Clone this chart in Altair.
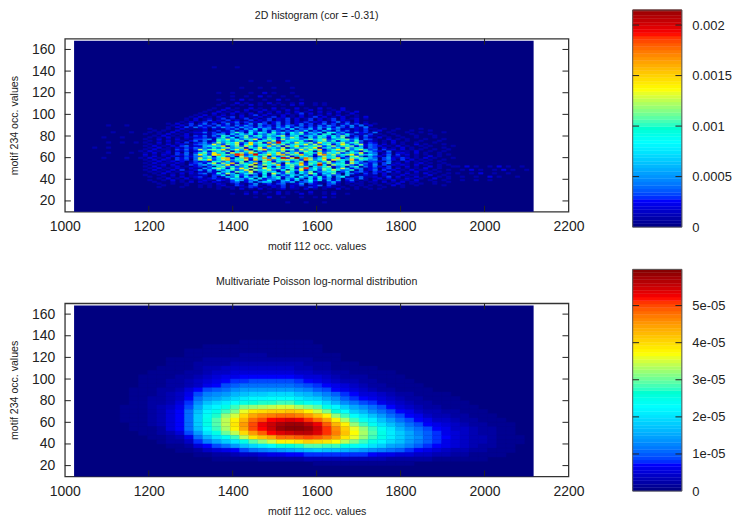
import altair as alt
import pandas as pd

# ---- axes ----
X_TICKS = [1000, 1200, 1400, 1600, 1800, 2000, 2200]
Y_TICKS = [20, 40, 60, 80, 100, 120, 140, 160]
X_FIELD = [1022, 2117]
Y_FIELD = [10, 168]
STOPS = [0, 0.12, 0.38, 0.62, 0.87, 1]
JET = ["#000080", "#0000ff", "#00ffff", "#ffff00", "#ff0000", "#800000"]
BANDS = 64

# ---- top panel: histogram, base-36 digits in units of 1e-4, (row, first column, cells) ----
HIST_COL_W = 10.95
HIST_ROW_H = 1.58
HIST_MAX = 0.0022
HIST_TICKS = [0.0005, 0.001, 0.0015, 0.002]
HIST_ROWS = [
    (5, 44, "0010001000100"),
    (8, 38, "0100200100010010201"),
    (10, 34, "10020101002010020100102001"),
    (11, 36, "010200102010100200101"),
    (13, 30, "0100102010201012011020101002010100101"),
    (14, 14, "0000100001000" "10101011" "0113201021302101320121" "01001010" "001000100"),
    (15, 14, "0000010000100" "10101200" "3203410221302130124031" "10010101" "010020100100000100"),
    (16, 14, "0000100100100" "01102101" "3102502313401250321034" "10101100" "100102001010010000"),
    (17, 14, "0001000101020" "21021013" "4025147602536034720136" "20120101" "102010201100010010"),
    (18, 14, "0010010201010" "121032" "13752460384157260493716250" "241010" "201020110200100100"),
    (19, 14, "0000102010201" "212320" "28653907245816394072835140" "331410" "120201021010020010"),
    (20, 14, "0010010102012" "310302" "74a28460936a25718493a26058" "102411" "201302010201001010"),
    (21, 14, "0100100201011" "1203" "38159362407182639507261483507" "10121" "102010201100200100"),
    (22, 14, "0001020102021" "3412" "93c6048b5291d73a6084c9275b306" "42031" "302011020102010010"),
    (23, 14, "0010102010120" "2142" "0672b95d14a6803c7295b1468a037" "13420" "320302010200101000"),
    (24, 14, "0102010203012" "526" "2748a36d0b78c4290a5e2683b7c945a1" "412" "403120102011010010"),
    (25, 14, "0010201021021" "153" "8c92b5e7c04d96b38a2c75a4b906d725" "412" "302302010102001000"),
    (26, 14, "0102010120102" "314" "07b4935a1c6082947b36a0859c24716a" "142" "420301020100201001"),
    (27, 14, "0010120201032" "46" "37a6e2b59d04c87f29b6e3a5d81c79b42a" "32" "503021210201001010"),
    (28, 14, "0102011021023" "52" "8d3c7f2b96e3a8c50d7ag3b9e4c68a2d73" "42" "403512010120100100"),
    (29, 14, "0010201202013" "23" "29a4836b1740c92a5836b17a49c2581b64" "13" "320401020101001000"),
    (30, 14, "0102021032304" "b9e37cg5a8d2f6bh49ce7a3gc58d2eb96f3a74" "503420302010100100"),
    (31, 14, "1020102032414" "d6a48ef29bh3c7g5e8a3db6hc49f7ae25c8b96" "403521320102010001"),
    (32, 14, "0102010201324" "47b2a9361c58a4b0739c26a8514b7a3629c415" "320412010100201000"),
    (33, 14, "0201021032415" "e83cg9b5fh36d9ae7cg4b8f6a2dh7c59be3a68" "502403120101001010"),
    (34, 14, "0102012030403" "9b4e7a2d8c5fa36b9e4c7d29a6f4b8c36a7d25" "401302210201001000"),
    (35, 14, "1020102021312" "3826a5b1749c0638a5b2647c91a3586b0942a6" "320401010200100100"),
    (36, 14, "0102011032413" "c5ab9e37d6g28cf4a7e9b3d6c8f25ae7b49c63" "403120201010010010"),
    (37, 14, "0010201021324" "35" "3948c57b2a6d3984c15a7b9e26a483c5a7" "14" "302010201001000100"),
    (38, 14, "0102010203412" "26" "87ae26b4d93a7f5b2c8e46a9d37c5a8b26" "24" "320102010010100001"),
    (39, 14, "0010102012013" "45" "4d63b7c29e5a84c6b37a9d5c48b26ea37c" "24" "302010100201000100"),
    (40, 14, "0100201020302" "3524" "c5a8d36e7b2g5c8a4d96b3e7a58c49b" "313" "201020100100010000"),
    (41, 14, "0010102011024" "1412" "a6947b1638a5c24976a3158b4a2763a" "412" "101020010010001000"),
    (42, 14, "0100201020103" "3451" "a7c5847ad26b93c58a47b69c35a8b47" "143" "100201010001000100"),
    (43, 14, "0010102010212" "23124" "a3816b5473a6295c84173a6295b1" "24131" "020100100100010000"),
    (44, 14, "0001020101203" "24142" "a7265b38a4759c36a2574a8394b6" "13142" "101001000100010000"),
    (45, 14, "0100102010201" "12135" "5173859264a73518693472a81539" "31203" "010010001000100000"),
    (46, 14, "0010100201012" "2413132" "4a5183962a47395b26471a8352" "1423140" "010001001000010000"),
    (47, 14, "0001010020101" "1201312" "51327415263142537142631524" "1213012" "001000100010000000"),
    (48, 14, "0010001002010" "1202113" "2415382641352714362518341" "2021311" "010010000100000000"),
    (49, 18, "00102031423142534253425342536253142534253142140"),
    (50, 20, "010203142314231425314231425314231425314251402"),
    (51, 20, "1020130241302413024153024130241302413024130201"),
    (52, 22, "010201302130241302130241302130213024130201"),
    (53, 22, "00102013021302013021302130201302013021020"),
    (54, 24, "1020120130201302013021302013020130201201"),
    (55, 24, "0102010201302010201302010201302010200102"),
    (56, 26, "102010201020130201020102010201020101"),
    (57, 26, "010020102010201020102013020102010020"),
    (58, 28, "1002010201002010201020100201020102"),
    (59, 28, "01002010020102010020100201001020"),
    (60, 30, "100201002010020100201002010020"),
    (62, 30, "0100101020100101020100101"),
    (63, 32, "10020100102010010200101"),
    (65, 30, "010010201001002010010"),
    (67, 34, "1001002010010010"),
    (69, 30, "01001000100201000100"),
    (72, 36, "10001001000100"),
    (76, 38, "100010001"),
    (84, 30, "10000100"),
    (26, 83, "102010010201001"),
    (24, 83, "01020100102010010"),
    (22, 83, "1001020010010"),
    (20, 83, "0100100201000100"),
    (18, 84, "100100100"),
    (31, 4, "0010000100"),
    (34, 6, "01000010"),
    (37, 4, "1001000"),
    (40, 6, "01001001"),
    (43, 4, "0010001000"),
    (46, 8, "100010"),
    (50, 6, "01000100"),
]
HIST_PEAKS = [
    (35, 33, 19), (39, 33, 20), (44, 40, 20), (45, 31, 20),
    (48, 31, 22), (53, 27, 21), (50, 25, 19), (30, 33, 14),
]

# ---- bottom panel: fitted density, one digit per cell in units of 1e-6 ----
DIGITS = "0123456789abcdefghijklmnopqrstuvwxyzABCDEFGHIJKLMNOPQRSTUVWX"
DENS_COL_W = 21.9
DENS_ROW_H = 4
DENS_MAX = 5.975e-5
DENS_TICKS = [1e-5, 2e-5, 3e-5, 4e-5, 5e-5]
DENS_Y_TOP = [134, 130, 126, 122, 118, 114, 110, 106, 102, 98, 94, 90, 86, 82, 78,
              74, 70, 66, 62, 58, 54, 50, 46, 42, 38, 34, 30, 26, 22]
DENS_ROWS = [
    "00000000000000000011111111",
    "0000000000000011111111111110",
    "000000000000111111111111111",
    "00000000000011111122211111111",
    "00000000001111222222222222111",
    "0000000000111222233333333222111",
    "000000000111123344444444332211111",
    "00000000111122344555555544332211111",
    "000000011112234566777777655432221111",
    "0000000111223456788999998765433221111",
    "00000001112234679abbbbbba9876543221111",
    "000000111223579abdeeeeeedca976543221111",
    "00000011123469cdeghiijjjhgeca875543221111",
    "0000001122347befhjlmmnnnljifda876543221111",
    "0000001122358dhjlnpqrrssqomjgdb986543221111",
    "0000011123469fkmpsvwxyzzxvtpmifdb97543221111",
    "000001112357bhmpsvADEFFGFCzvqnigdb97643322111",
    "000001112357biorwzEIKLMMLJGCwsnkheb97643322111",
    "000001112357biptyCHMOQRSRPMICxsolheb97644322111",
    "000000112357biptyDJORTVWWURNHCwsokheb97654322111",
    "000000111257bhnsxCIOQTWXXWTPKFAwsokgdb9764432211",
    "0000000112359ekpuyEJNQSTUUSPLGBxtplifca865432211",
    "0000000011236bgkosyDGIMMNONLIDAwsplifda8754332111",
    "00000000012248cfilptwzCCDFEDByvspmjheca8654332111",
    "0000000000112579behjlnqqrttsspomkifeca8765432211",
    "0000000000011245679bcdefghihhgfedcba876543322111",
    "00000000000001122344566778888888766554433221111",
    "000000000000000111112222233333333322222111111",
    "0000000000000000000000000011111111111",
]

hist_cells = []
for row, start, text in HIST_ROWS:
    for i, ch in enumerate(text):
        v = int(ch, 36) * 1e-4
        if v > 0:
            hist_cells.append(dict(x=X_FIELD[0] + (start + i) * HIST_COL_W,
                                   x2=X_FIELD[0] + (start + i + 1) * HIST_COL_W,
                                   y=Y_FIELD[0] + row * HIST_ROW_H,
                                   y2=Y_FIELD[0] + (row + 1) * HIST_ROW_H, v=v))
for col, row, val in HIST_PEAKS:
    hist_cells.append(dict(x=X_FIELD[0] + col * HIST_COL_W,
                           x2=X_FIELD[0] + (col + 1) * HIST_COL_W,
                           y=Y_FIELD[0] + row * HIST_ROW_H,
                           y2=Y_FIELD[0] + (row + 1) * HIST_ROW_H, v=val * 1e-4))

dens_cells = []
for top, text in zip(DENS_Y_TOP, DENS_ROWS):
    for i, ch in enumerate(text):
        v = DIGITS.index(ch) * 1e-6
        if v > 0:
            dens_cells.append(dict(x=X_FIELD[0] + i * DENS_COL_W,
                                   x2=X_FIELD[0] + (i + 1) * DENS_COL_W,
                                   y=top - DENS_ROW_H / 2, y2=top + DENS_ROW_H / 2, v=v))

PLOT_W = 505
PLOT_H = 173.6
TICK = 6
FONT = "Liberation Sans"
LABEL = 14
SMALL = 10.6
INK = "#222222"


def panel(cells, title, title_y, vmax, ticks, bar_top_value, bar_range, label_expr):
    color = alt.Scale(domain=[s * vmax for s in STOPS], range=JET)
    xs = alt.Scale(domain=[1000, 2200], nice=False)
    ys = alt.Scale(domain=[10, 170], nice=False)
    x_axis = alt.Axis(values=X_TICKS, title="motif 112 occ. values", grid=False, ticks=False,
                      domain=False, labelPadding=8, labelFontSize=LABEL, labelFont=FONT,
                      labelColor=INK, titleFontSize=SMALL, titleFont=FONT, labelFlush=False,
                      titleFontWeight="normal", titleColor=INK, titlePadding=8, format="d")
    y_axis = alt.Axis(values=Y_TICKS, title="motif 234 occ. values", grid=False, ticks=False,
                      domain=False, labelPadding=10, labelFontSize=LABEL, labelFont=FONT,
                      labelColor=INK, titleFontSize=SMALL, titleFont=FONT, labelFlush=False,
                      titleFontWeight="normal", titleColor=INK, titleX=-45.5)
    stroke = alt.Stroke("v:Q", scale=color, legend=None)
    fill = alt.Color("v:Q", scale=color, legend=None)
    base = alt.Chart(pd.DataFrame([dict(x=X_FIELD[0], x2=X_FIELD[1], y=Y_FIELD[0], y2=Y_FIELD[1], v=0.0)])).mark_rect().encode(
        x=alt.X("x:Q", scale=xs, axis=x_axis), x2="x2:Q",
        y=alt.Y("y:Q", scale=ys, axis=y_axis), y2="y2:Q", color=fill)
    heat = alt.Chart(pd.DataFrame(cells)).mark_rect(strokeWidth=0.4).encode(
        x=alt.X("x:Q", scale=xs, axis=x_axis), x2="x2:Q",
        y=alt.Y("y:Q", scale=ys, axis=y_axis), y2="y2:Q", color=fill, stroke=stroke)
    xt = pd.DataFrame({"t": X_TICKS[1:-1]})
    yt = pd.DataFrame({"t": Y_TICKS})
    marks = [base, heat]
    for a, b in [(PLOT_H, PLOT_H - TICK), (0, TICK)]:
        marks.append(alt.Chart(xt).mark_rule(color=INK, strokeWidth=1).encode(
            x=alt.X("t:Q", scale=xs, axis=x_axis), y=alt.value(a), y2=alt.value(b)))
    for a, b in [(0, TICK), (PLOT_W, PLOT_W - TICK)]:
        marks.append(alt.Chart(yt).mark_rule(color=INK, strokeWidth=1).encode(
            y=alt.Y("t:Q", scale=ys, axis=y_axis), x=alt.value(a), x2=alt.value(b)))
    marks.append(alt.Chart(pd.DataFrame({"label": [title]})).mark_text(
        font=FONT, fontSize=SMALL, color=INK, align="center", baseline="middle").encode(
        text="label:N", x=alt.value(PLOT_W / 2), y=alt.value(title_y)))
    main = alt.layer(*marks)

    # colour bar, drawn through its own scales to the right of the plot
    bx = alt.Scale(domain=[0, 1], range=[569.4, 618.7])
    by = alt.Scale(domain=[0, bar_top_value], range=bar_range, clamp=True)
    bands = pd.DataFrame([dict(lo=vmax * i / BANDS, hi=vmax * (i + 1) / BANDS,
                               v=vmax * (i + 0.5) / BANDS, a=0.0, b=1.0) for i in range(BANDS)])
    bar_axis = alt.Axis(orient="right", offset=113.7, values=[0] + ticks, title=None, grid=False,
                        ticks=False, domain=False, labelPadding=10, labelFontSize=13,
                        labelFont=FONT, labelColor=INK, labelExpr=label_expr, labelFlush=False)
    bar = alt.Chart(bands).mark_rect(strokeWidth=0.4).encode(
        x=alt.X("a:Q", scale=bx, axis=None), x2="b:Q",
        y=alt.Y("lo:Q", scale=by, axis=bar_axis), y2="hi:Q", color=fill, stroke=stroke)
    frame = alt.Chart(pd.DataFrame([dict(a=0.0, b=1.0, lo=0.0, hi=bar_top_value)])).mark_rect(
        filled=False, stroke="#555555", strokeWidth=1).encode(
        x=alt.X("a:Q", scale=bx, axis=None), x2="b:Q",
        y=alt.Y("lo:Q", scale=by, axis=bar_axis), y2="hi:Q")
    tdata = pd.DataFrame([dict(t=t, a=a, b=b) for t in ticks for a, b in [(0.0, 0.13), (0.87, 1.0)]])
    bticks = alt.Chart(tdata).mark_rule(color=INK, strokeWidth=1).encode(
        x=alt.X("a:Q", scale=bx, axis=None), x2="b:Q",
        y=alt.Y("t:Q", scale=by, axis=bar_axis))
    side = alt.layer(bar, frame, bticks)

    return alt.layer(main, side).resolve_scale(x="independent", y="independent").properties(
        width=PLOT_W, height=PLOT_H)


top = panel(hist_cells, "2D histogram (cor = -0.31)", -22.5, HIST_MAX, HIST_TICKS, 0.002149, [189.0, -28.7],
            "datum.value === 0 ? '0' : format(datum.value, '.4~f')")
bottom = panel(dens_cells, "Multivariate Poisson log-normal distribution", -21.7, DENS_MAX, DENS_TICKS, DENS_MAX, [188.3, -34.0],
               "datum.value === 0 ? '0' : replace(format(datum.value, '.0e'), 'e-', 'e-0')")

chart = alt.vconcat(top, bottom, bounds="flush", spacing=91.4).resolve_scale(
    color="independent", stroke="independent").properties(
    padding=0).configure_view(stroke="#333333", strokeWidth=1.3)

chart.save("out.html", embed_options={"renderer": "svg", "actions": False})
